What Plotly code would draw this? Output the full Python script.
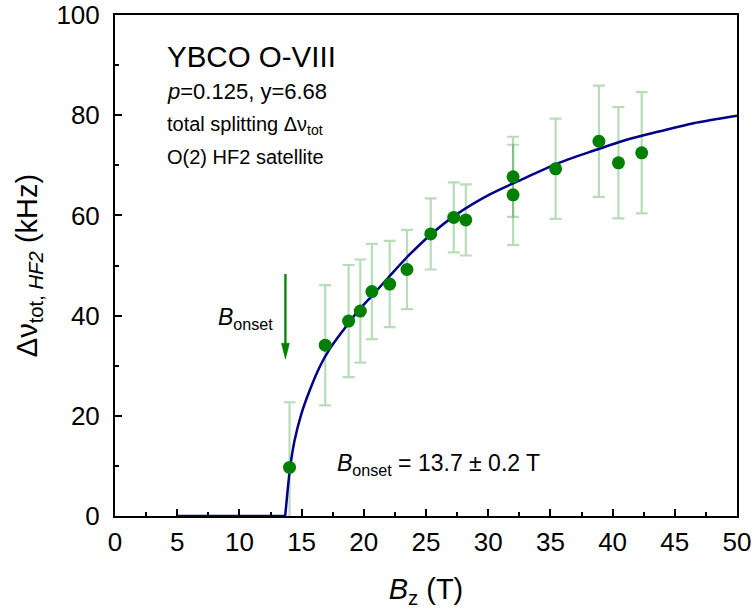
import plotly.graph_objects as go

# ---- data ----
B_field = [14.03, 16.9, 18.78, 19.72, 20.65, 22.08, 23.47, 25.38, 27.23, 28.2,
           32.0, 32.0, 35.42, 38.9, 40.47, 42.34]
splitting = [9.7, 34.1, 38.9, 40.9, 44.8, 46.3, 49.2, 56.3, 59.6, 59.1,
             67.7, 64.1, 69.3, 74.8, 70.5, 72.5]
split_err = [13.0, 12.0, 11.2, 10.3, 9.5, 8.6, 7.9, 7.1, 7.0, 7.1,
             8.0, 10.0, 10.0, 11.1, 11.1, 12.1]

# fit curve
fit_flat_B = [5.0, 13.68]
fit_flat_v = [0.0, 0.0]
fit_B = [13.68, 13.9, 14.08, 14.43, 14.97, 15.64, 16.44, 17.25, 18.32, 19.5,
         20.75, 22.08, 23.69, 25.3, 27.45, 30.13, 32.81, 35.5, 38.45, 41.13,
         43.82, 46.5, 50.0]
fit_v = [0.0, 5.7, 9.7, 15.0, 20.3, 25.0, 29.7, 33.3, 37.0, 40.8,
         44.2, 47.9, 52.2, 56.0, 60.2, 64.2, 67.3, 70.3, 72.9, 75.1,
         76.8, 78.4, 79.9]

B_onset = 13.7
arrow_top = 48.3
arrow_tip = 31.3

FONT = "Liberation Sans, Arial, sans-serif"
GREEN = "#008000"
NAVY = "#000088"

fig = go.Figure()

fig.add_trace(go.Scatter(x=fit_flat_B, y=fit_flat_v, mode="lines",
                         line=dict(color=NAVY, width=2.5), showlegend=False,
                         hoverinfo="skip"))
fig.add_trace(go.Scatter(x=B_field, y=splitting, mode="markers",
                         marker=dict(color=GREEN, size=13, opacity=0),
                         error_y=dict(type="data", array=split_err, visible=True,
                                      color="rgba(0,128,0,0.28)", thickness=2.2, width=6),
                         showlegend=False, hoverinfo="skip"))
fig.add_trace(go.Scatter(x=fit_B, y=fit_v, mode="lines",
                         line=dict(color=NAVY, width=2.5, shape="spline", smoothing=0.8),
                         showlegend=False))
fig.add_trace(go.Scatter(x=B_field, y=splitting, mode="markers",
                         marker=dict(color=GREEN, size=13, line=dict(width=0)),
                         showlegend=False))

# arrow
fig.add_shape(type="line", x0=B_onset, x1=B_onset, y0=arrow_top, y1=arrow_tip + 2.5,
              xref="x", yref="y", line=dict(color=GREEN, width=2.3))
fig.add_shape(type="path", xref="x", yref="y",
              path=f"M {B_onset-0.32},{arrow_tip+3.2} L {B_onset+0.32},{arrow_tip+3.2} L {B_onset},{arrow_tip} Z",
              fillcolor=GREEN, line=dict(color=GREEN, width=0.5))

def txt(x, y, text, size):
    fig.add_annotation(x=x, y=y, xref="x", yref="y", text=text, showarrow=False,
                       xanchor="left", yanchor="middle",
                       font=dict(family=FONT, size=size, color="black"))

txt(4.0, 91.8, "YBCO O-VIII", 29.5)
txt(4.0, 84.8, "<i>p</i>=0.125, y=6.68", 22)
txt(4.0, 78.0, "total splitting Δν<sub>tot</sub>", 20)
txt(4.0, 71.6, "O(2) HF2 satellite", 20)
txt(8.15, 39.5, "<i>B</i><sub>onset</sub>", 23)
txt(17.7, 10.2, "<i>B</i><sub>onset</sub> = 13.7 ± 0.2 T", 23)

axis_common = dict(showline=True, linecolor="black", linewidth=2, mirror=True,
                   showgrid=False, zeroline=False, ticks="inside", ticklen=7,
                   tickwidth=1.5, tickcolor="black",
                   tickfont=dict(family=FONT, size=26, color="black"))

fig.update_xaxes(range=[0, 50], dtick=5, tick0=0,
                 minor=dict(dtick=2.5, ticks="inside", ticklen=4, tickwidth=1.5,
                            tickcolor="black"),
                 ticklabelstandoff=2,
                 title=dict(text="<i>B</i><sub>z</sub> (T)", standoff=22,
                            font=dict(family=FONT, size=29, color="black")),
                 **axis_common)
fig.update_yaxes(range=[0, 100], dtick=20, tick0=0,
                 minor=dict(dtick=10, ticks="inside", ticklen=4, tickwidth=1.5,
                            tickcolor="black"),
                 ticklabelstandoff=8,
                 title=dict(text="Δν<sub>tot, <i>HF2</i></sub> (kHz)", standoff=10,
                            font=dict(family=FONT, size=29, color="black")),
                 **axis_common)

fig.update_layout(width=755, height=615,
                  margin=dict(l=115, r=18, t=15, b=99, autoexpand=False),
                  plot_bgcolor="white", paper_bgcolor="white",
                  font=dict(family=FONT, color="black"))

# remove the browser's default 8px page margin so the 755x615 figure fills the window exactly
fig.write_html("out.html", config={"displayModeBar": False},
               post_script="document.body.style.margin='0';document.body.style.overflow='hidden';")
